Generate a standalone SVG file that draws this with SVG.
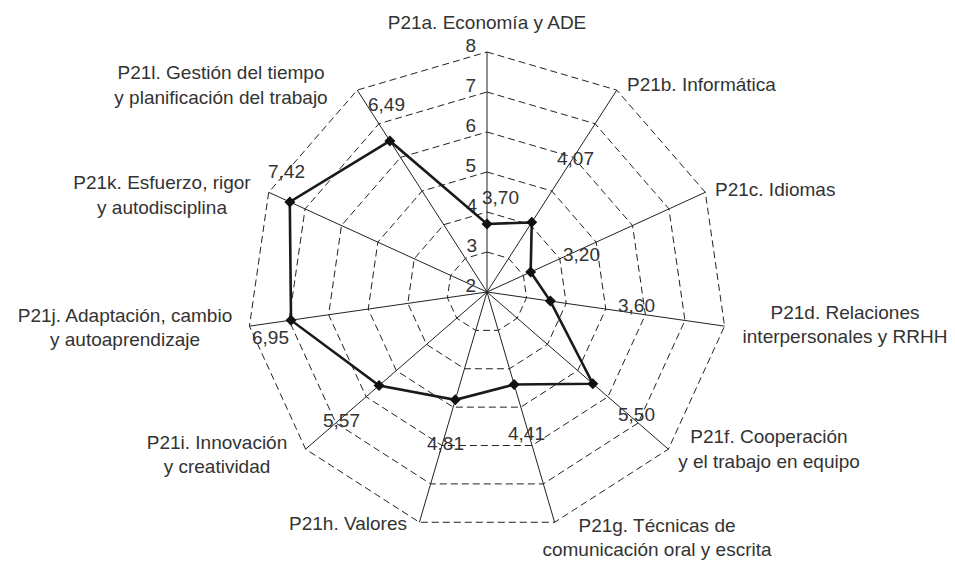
<svg xmlns="http://www.w3.org/2000/svg" xmlns:xlink="http://www.w3.org/1999/xlink" width="955" height="562" viewBox="0 0 955 562">
<style>
  text { font-family: "Liberation Sans", Arial, sans-serif; font-size: 19px; fill: #333; }
  .mid { text-anchor: middle; }
  .end { text-anchor: end; }
  .ring { fill: none; stroke: #222; stroke-width: 1; stroke-dasharray: 7 4; }
  .axis { stroke: #222; stroke-width: 1; }
  .data { fill: none; stroke: #1a1a1a; stroke-width: 2.6; stroke-linejoin: miter; }
  .mk { fill: #111; }
</style>
<defs>
  <path id="dia" d="M0,-5.5 L5.5,0 L0,5.5 L-5.5,0 Z"/>
</defs>
<rect width="955" height="562" fill="#fff"/>
<g id="grid">
  <polygon class="ring" points="487,252 508.63,258.35 523.39,275.38 526.59,297.69 517.23,318.19 498.27,330.38 475.73,330.38 456.77,318.19 447.41,297.69 450.61,275.38 465.37,258.35"/>
  <polygon class="ring" points="487,212 530.25,224.7 559.77,258.77 566.19,303.38 547.46,344.39 509.54,368.76 464.46,368.76 426.54,344.39 407.81,303.38 414.23,258.77 443.75,224.7"/>
  <polygon class="ring" points="487,172 551.88,191.05 596.16,242.15 605.78,309.08 577.69,370.58 520.81,407.14 453.19,407.14 396.31,370.58 368.22,309.08 377.84,242.15 422.12,191.05"/>
  <polygon class="ring" points="487,132 573.5,157.4 632.54,225.53 645.37,314.77 607.92,396.78 532.08,445.52 441.92,445.52 366.08,396.78 328.63,314.77 341.46,225.53 400.5,157.4"/>
  <polygon class="ring" points="487,92 595.13,123.75 668.93,208.92 684.96,320.46 638.15,422.97 543.35,483.9 430.65,483.9 335.85,422.97 289.04,320.46 305.07,208.92 378.87,123.75"/>
  <polygon class="ring" points="487,52 616.75,90.1 705.31,192.3 724.56,326.15 668.38,449.17 554.62,522.28 419.38,522.28 305.62,449.17 249.44,326.15 268.69,192.3 357.25,90.1"/>
</g>
<g id="connectors">
  <line class="axis" x1="487" y1="292" x2="487" y2="52"/>
  <line class="axis" x1="487" y1="292" x2="616.75" y2="90.1"/>
  <line class="axis" x1="487" y1="292" x2="705.31" y2="192.3"/>
  <line class="axis" x1="487" y1="292" x2="724.56" y2="326.15"/>
  <line class="axis" x1="487" y1="292" x2="668.38" y2="449.17"/>
  <line class="axis" x1="487" y1="292" x2="554.62" y2="522.28"/>
  <line class="axis" x1="487" y1="292" x2="419.38" y2="522.28"/>
  <line class="axis" x1="487" y1="292" x2="305.62" y2="449.17"/>
  <line class="axis" x1="487" y1="292" x2="249.44" y2="326.15"/>
  <line class="axis" x1="487" y1="292" x2="268.69" y2="192.3"/>
  <line class="axis" x1="487" y1="292" x2="357.25" y2="90.1"/>
</g>
<g id="scale">
  <text class="end" x="476" y="52">8</text>
  <text class="end" x="476" y="92">7</text>
  <text class="end" x="476" y="132">6</text>
  <text class="end" x="476" y="172">5</text>
  <text class="end" x="477" y="212">4</text>
  <text class="end" x="477" y="252">3</text>
  <text class="end" x="476" y="292">2</text>
</g>
<g id="series">
  <polygon class="data" points="487,224 531.76,222.34 530.66,272.06 550.35,301.11 592.81,383.68 514.16,384.49 455.33,399.85 379.08,385.51 291.02,320.18 289.79,201.94 389.9,140.91"/>
  <use class="mk" href="#dia" x="487" y="224"/>
  <use class="mk" href="#dia" x="531.76" y="222.34"/>
  <use class="mk" href="#dia" x="530.66" y="272.06"/>
  <use class="mk" href="#dia" x="550.35" y="301.11"/>
  <use class="mk" href="#dia" x="592.81" y="383.68"/>
  <use class="mk" href="#dia" x="514.16" y="384.49"/>
  <use class="mk" href="#dia" x="455.33" y="399.85"/>
  <use class="mk" href="#dia" x="379.08" y="385.51"/>
  <use class="mk" href="#dia" x="291.02" y="320.18"/>
  <use class="mk" href="#dia" x="289.79" y="201.94"/>
  <use class="mk" href="#dia" x="389.9" y="140.91"/>
</g>
<g id="values">
  <text x="482" y="204">3,70</text>
  <text x="557" y="165">4,07</text>
  <text x="563" y="261">3,20</text>
  <text x="618" y="312">3,60</text>
  <text x="618" y="421">5,50</text>
  <text x="508" y="440">4,41</text>
  <text x="427" y="450">4,81</text>
  <text x="323" y="427">5,57</text>
  <text x="252" y="344">6,95</text>
  <text x="268" y="178">7,42</text>
  <text x="368" y="111">6,49</text>
</g>
<g id="node-a"><text class="mid" x="487" y="29">P21a. Economía y ADE</text></g>
<g id="node-b"><text x="627" y="91">P21b. Informática</text></g>
<g id="node-c"><text x="715" y="196">P21c. Idiomas</text></g>
<g id="node-d"><text class="mid" x="845" y="319">P21d. Relaciones</text><text class="mid" x="845" y="343">interpersonales y RRHH</text></g>
<g id="node-f"><text class="mid" x="769" y="443">P21f. Cooperación</text><text class="mid" x="769" y="468">y el trabajo en equipo</text></g>
<g id="node-g"><text class="mid" x="657" y="532">P21g. Técnicas de</text><text class="mid" x="657" y="556">comunicación oral y escrita</text></g>
<g id="node-h"><text class="end" x="407" y="530">P21h. Valores</text></g>
<g id="node-i"><text class="mid" x="217" y="449">P21i. Innovación</text><text class="mid" x="217" y="473">y creatividad</text></g>
<g id="node-j"><text class="mid" x="125" y="322">P21j. Adaptación, cambio</text><text class="mid" x="125" y="346">y autoaprendizaje</text></g>
<g id="node-k"><text class="mid" x="162" y="189">P21k. Esfuerzo, rigor</text><text class="mid" x="162" y="214">y autodisciplina</text></g>
<g id="node-l"><text class="mid" x="221" y="79">P21l. Gestión del tiempo</text><text class="mid" x="221" y="104">y planificación del trabajo</text></g>
</svg>
